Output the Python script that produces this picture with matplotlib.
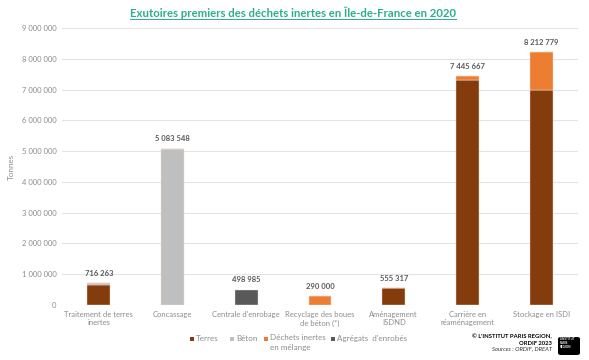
import matplotlib.pyplot as plt
from matplotlib.patches import FancyBboxPatch, Rectangle
import numpy as np

plt.rcParams['font.family'] = ['Lato', 'DejaVu Sans']

# Données (tonnes)
categories = ["Traitement de terres\ninertes", "Concassage", "Centrale d'enrobage",
              "Recyclage des boues\nde béton (*)", "Aménagement\nISDND",
              "Carrière en\nréaménagement", "Stockage en ISDI"]
terres = [650000, 0, 0, 0, 555317, 7300000, 6980000]
beton = [66263, 5083548, 0, 0, 0, 0, 0]
melange = [0, 0, 0, 290000, 0, 145667, 1232779]
agregats = [0, 0, 498985, 0, 0, 0, 0]
totaux = ["716 263", "5 083 548", "498 985", "290 000", "555 317", "7 445 667", "8 212 779"]

series = [
    ("Terres", terres, "#843C0C"),
    ("Béton", beton, "#BFBFBF"),
    ("Déchets inertes\nen mélange", melange, "#ED7D31"),
    ("Agrégats  d'enrobés", agregats, "#595959"),
]

W, H = 589, 360
fig = plt.figure(figsize=(W / 100, H / 100), dpi=100)
ax = fig.add_axes([62/W, 1-305/H, 516/W, 277/H])

x = np.arange(len(categories))
bas = np.zeros(len(categories))
for nom, vals, coul in series:
    vals = np.array(vals, dtype=float)
    ax.bar(x, vals, 0.31, bottom=bas, color=coul, zorder=3,
           edgecolor='#F4D9CC', linewidth=0.3)
    bas += vals

for i, txt in enumerate(totaux):
    ax.text(x[i], bas[i] + 200000, txt, ha='center', va='bottom',
            fontsize=5.5, fontweight='bold', color='#595959')

ax.set_xlim(-0.5, len(categories) - 0.5)
ax.set_ylim(0, 9000000)
ax.set_yticks(np.arange(0, 9000001, 1000000))
ax.set_yticklabels(["0"] + [f"{v:,}".replace(",", " ") for v in range(1000000, 9000001, 1000000)],
                   fontsize=5.5, color='#8C8C8C')
ax.set_xticks(x)
ax.set_xticklabels(categories, fontsize=5.5, color='#8C8C8C', linespacing=1.3)
ax.tick_params(length=0, pad=4)
ax.grid(axis='y', color='#E3E3E3', linewidth=0.8, zorder=0)
for s in ax.spines.values():
    s.set_visible(False)
ax.set_ylabel("Tonnes", fontsize=5.8, color='#8C8C8C')
ax.yaxis.set_label_coords((15 - 62) / 516, (305 - 167) / 277)

# Légende (placée à la main pour le texte sur deux lignes)
leg_x = [190, 230, 264, 331]
for (nom, vals, coul), lx in zip(series, leg_x):
    fig.add_artist(Rectangle((lx/W, 1-340.5/H), 4/W, 4/H, transform=fig.transFigure,
                             facecolor=coul, edgecolor='none'))
    if "\n" in nom:
        fig.text((lx + 6)/W, 1-334.5/H, nom, ha='left', va='top',
                 fontsize=5.8, color='#8C8C8C', linespacing=1.4)
    else:
        fig.text((lx + 6)/W, 1-338.5/H, nom, ha='left', va='center',
                 fontsize=5.8, color='#8C8C8C')

# Titre souligné
titre = fig.text(293/W, 1-13/H, "Exutoires premiers des déchets inertes en Île-de-France en 2020",
                 ha='center', va='center', fontsize=8.2, fontweight='bold', color='#2BAE8E')
fig.canvas.draw()
bb = titre.get_window_extent().transformed(fig.transFigure.inverted())
fig.add_artist(plt.Line2D([bb.x0, bb.x1], [bb.y0 + 0.002, bb.y0 + 0.002],
                          transform=fig.transFigure, color='#2BAE8E', linewidth=0.7))

# Crédits
fig.text(552/W, 1-340/H, "© L'INSTITUT PARIS REGION,\nORDIF 2023", ha='right', va='center',
         fontsize=4.2, fontweight='bold', color='black', linespacing=1.3)
fig.text(552/W, 1-349/H, "Sources : ORDIF, DREAT", ha='right', va='center',
         fontsize=4.2, style='italic', color='#333333')
logo = FancyBboxPatch((558/W, 1-355/H), 22/W, 18/H, boxstyle="round,pad=0,rounding_size=0.005",
                      transform=fig.transFigure, facecolor='black', edgecolor='none')
fig.add_artist(logo)
fig.text(560/W, 1-343/H, "L'INSTITUT\nPARIS\nREGION", ha='left', va='center',
         fontsize=2.2, fontweight='bold', color='white', linespacing=1.1)

fig.savefig("out.png", dpi=100)
